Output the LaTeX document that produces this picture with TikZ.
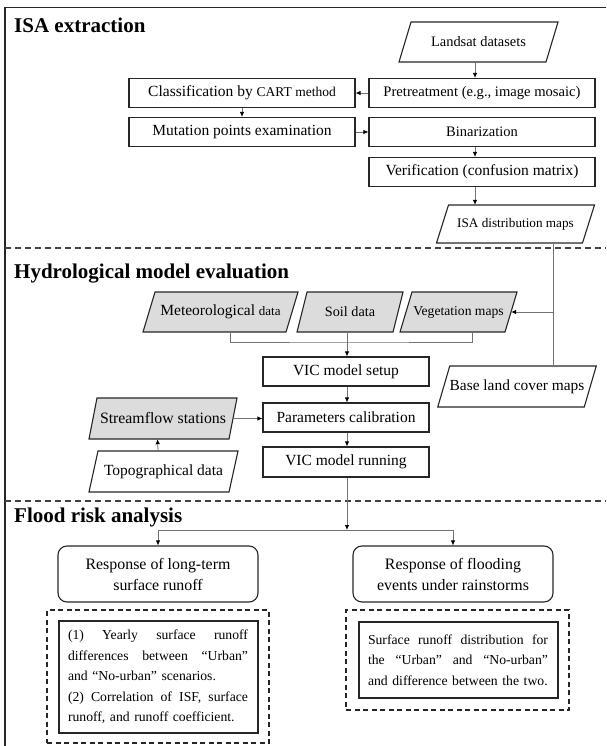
\documentclass[tikz,border=0pt]{standalone}
\usepackage{fontspec}
\setmainfont{Liberation Serif}
\usetikzlibrary{arrows.meta,calc}
\definecolor{fillg}{HTML}{DCDCDC}
\newcommand{\fsz}[2]{\fontsize{#1}{#2}\selectfont}
\newcommand{\jline}[1]{\leavevmode\hbox to 180pt{#1}}
\newcommand{\pgram}[8]{%
  \filldraw[pgline, fill=#1] ({#3-#5/2-#7/2},{#4+#6/2}) -- ({#3+#5/2-#7/2},{#4+#6/2}) -- ({#3+#5/2+#7/2},{#4-#6/2}) -- ({#3-#5/2+#7/2},{#4-#6/2}) -- cycle;
  \node[inner sep=0, minimum width=#5pt, minimum height=#6pt] (#2) at (#3,#4) {#8};
}
\tikzset{
  box/.style={draw=black!85, line width=1.1pt, inner sep=0, minimum width=226pt, minimum height=29pt, font=\fsz{15.5}{18}},
  vbox/.style={draw=black!85, line width=1.1pt, inner sep=0, minimum width=166pt, minimum height=29pt, font=\fsz{15.5}{18}},
  pgline/.style={draw=black!85, line width=1.1pt},
  conn/.style={draw=black!55, line width=0.8pt},
  arr/.style={conn, -{Latex[length=5pt,width=4.5pt,color=black]}},
  sep/.style={draw=black!75, line width=1.1pt, dash pattern=on 6pt off 4pt},
  title/.style={anchor=west, inner sep=0, font=\bfseries\fsz{21}{24}},
  rbox/.style={draw=black!85, line width=1.1pt, rounded corners=9pt, inner sep=0, minimum width=200pt, minimum height=56pt, align=center, font=\fsz{15.9}{21}},
  dbox/.style={draw=black!85, line width=1.1pt, dash pattern=on 5pt off 3.5pt, inner sep=0},
  ibox/.style={draw=black!85, line width=1.1pt, inner sep=0, minimum width=199pt, text width=181pt, align=left, font=\fsz{13.7}{20.5}},
}
\begin{document}
\begin{tikzpicture}[x=1pt,y=-1pt]
\useasboundingbox (0,0) rectangle (606,746);
% frame
\draw[line width=1.2pt, black!85] (5,746) -- (5,7.5) -- (606,7.5);
% ---- ISA extraction
\node[title] (t1) at (14,25) {ISA extraction};
\pgram{white}{land}{478.5}{42}{147}{40}{12}{\fsz{14.4}{17}Landsat datasets}
\node[box] (pre) at (482,93) {\fsz{14.6}{17}Pretreatment (e.g., image mosaic)};
\node[box] (cls) at (242,93) {\fsz{15.5}{18}Classification by \fsz{13.5}{16}CART method};
\node[box] (mut) at (242,132) {Mutation points examination};
\node[box] (bin) at (482,132) {\fsz{14.5}{17}Binarization};
\node[box] (ver) at (482,172) {Verification (confusion matrix)};
\pgram{white}{isa}{515.5}{224}{146}{38}{12}{\fsz{13.2}{16}ISA distribution maps}
\draw[arr] ([xshift=-3.5pt]land.south) -- ([xshift=-3.5pt]land.south |- pre.north);
\draw[arr] (pre.west) -- (cls.east);
\draw[arr] (cls.south) -- (mut.north);
\draw[arr] (mut.east) -- (bin.west);
\draw[arr] ([xshift=-7pt]bin.south) -- ([xshift=-7pt]ver.north);
\draw[arr] ([xshift=-7pt]ver.south) -- ([xshift=-7pt]ver.south |- isa.north);
\draw[sep] (5,248) -- (606,248);
% ---- Hydrological model evaluation
\node[title] (t2) at (14,274) {Hydrological model evaluation};
\pgram{fillg}{met}{220.5}{312}{143}{40}{12}{\fsz{15.5}{18}Meteorological \fsz{13}{16}data}
\pgram{fillg}{soil}{350}{312}{96}{40}{10}{\fsz{14.2}{17}Soil data}
\pgram{fillg}{veg}{458.5}{312}{105}{40}{12}{\fsz{13.6}{16}Vegetation maps}
\node[vbox] (setup) at (346,371.5) {VIC model setup};
\node[vbox] (params) at (346,417.5) {Parameters calibration};
\node[vbox, minimum height=30pt] (run) at (346,462) {VIC model running};
\pgram{white}{base}{517}{386.5}{146.5}{41}{12}{\fsz{15.4}{18}Base land cover maps}
\pgram{fillg}{stream}{163}{418.5}{140}{41}{8}{\fsz{15.8}{18}Streamflow stations}
\pgram{white}{topo}{163.5}{471.5}{140}{41}{9}{\fsz{15.5}{18}Topographical data}
\coordinate (vj) at (553,311);
\draw[conn] (isa.south -| vj) -- (base.north -| vj);
\draw[arr] (vj |- veg.east) -- (veg.east);
\coordinate (mj) at (347,342);
\draw[conn] ([xshift=9.5pt]met.south) |- (mj) -| ([xshift=13.5pt]veg.south);
\draw[arr] (mj |- soil.south) -- (mj |- setup.north);
\draw[arr] (mj |- setup.south) -- (mj |- params.north);
\draw[arr] (mj |- params.south) -- (mj |- run.north);
\draw[arr] (stream.east) -- (stream.east -| params.west);
\draw[arr] ([xshift=-5.5pt]topo.north) -- ([xshift=-5.5pt]stream.south);
\draw[sep] (5,501) -- (606,501);
% ---- Flood risk analysis
\node[title] (t3) at (14,517) {Flood risk analysis};
\node[rbox] (r1) at (158,574) {Response of long-term\\surface runoff};
\node[rbox] (r2) at (453,574) {Response of flooding\\events under rainstorms};
\coordinate (jn) at (347,530);
\draw[arr] (mj |- run.south) -- (jn);
\draw[conn] (r1.north |- jn) -- (r2.north |- jn);
\draw[arr] (r1.north |- jn) -- (r1.north);
\draw[arr] (r2.north |- jn) -- (r2.north);
\node[dbox, minimum width=222pt, minimum height=133pt] (d1) at (158,676.5) {};
\node[dbox, minimum width=223pt, minimum height=100pt] (d2) at (457.5,660) {};
\node[ibox, minimum height=112pt] (b1) at (158.5,677) {%
\jline{(1)\hfill Yearly\hfill surface\hfill runoff}\\
\jline{differences\hfill between\hfill “Urban”}\\
and “No-urban” scenarios.\\
\jline{(2)\hfill Correlation\hfill of\hfill ISF,\hfill surface}\\
runoff, and runoff coefficient.};
\node[ibox, minimum height=76pt] (b2) at (458.5,660) {%
\jline{Surface\hfill runoff\hfill distribution\hfill for}\\
\jline{the\hfill “Urban”\hfill and\hfill “No-urban”}\\
and difference between the two.};
\end{tikzpicture}
\end{document}
